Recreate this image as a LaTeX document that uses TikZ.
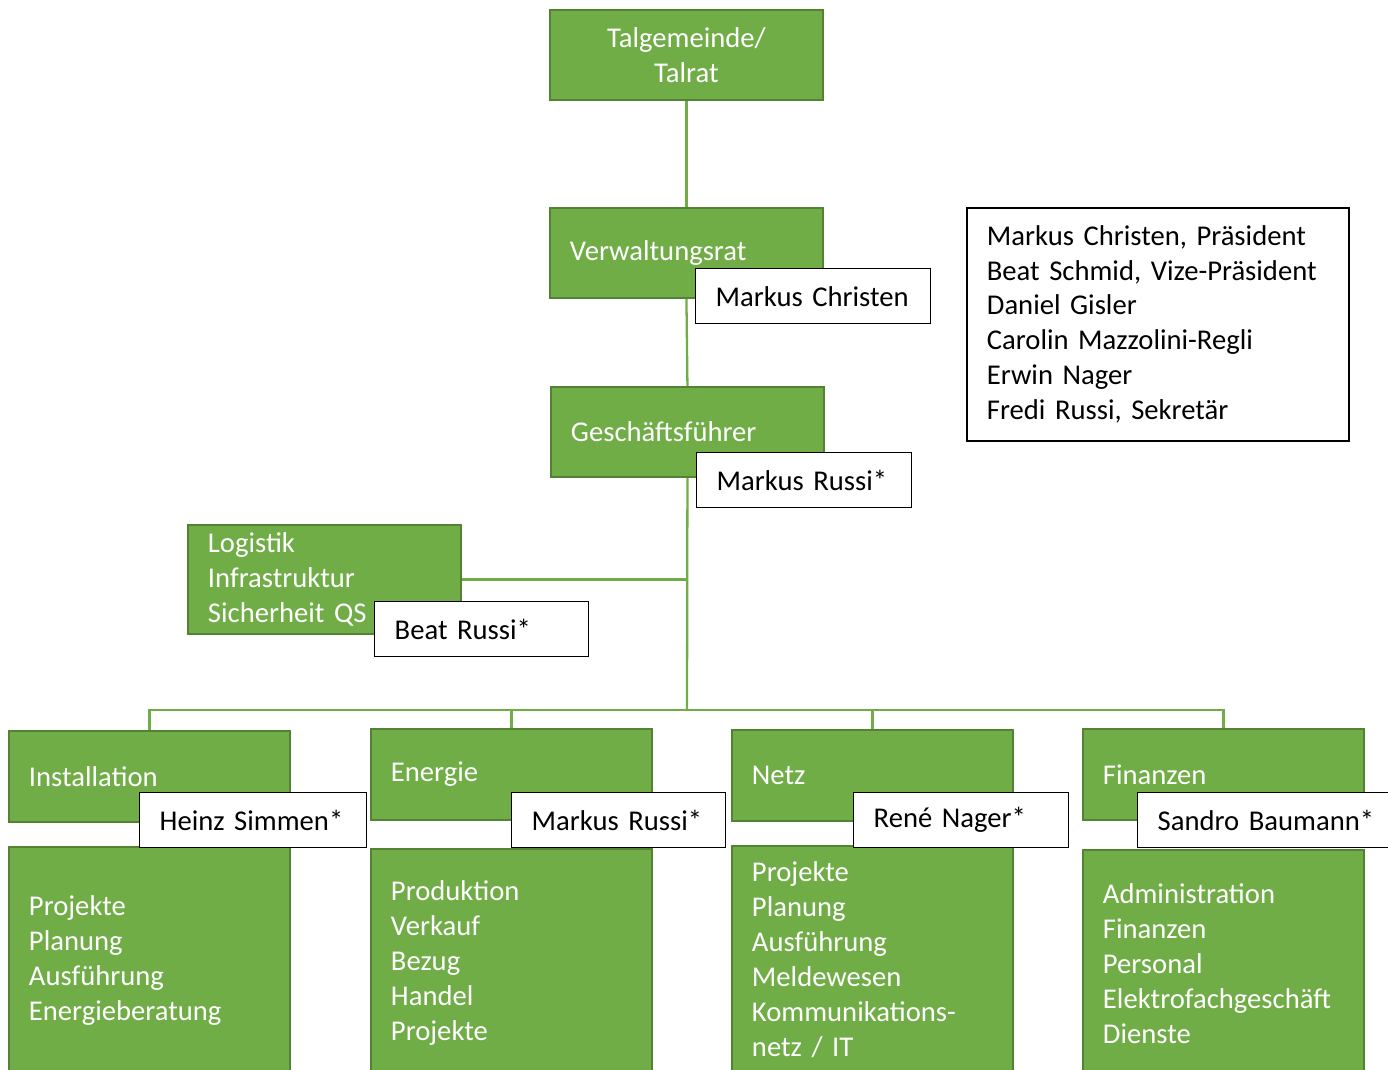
\documentclass[tikz,border=0pt]{standalone}
\usepackage{fontspec}
\setmainfont{Carlito}
\definecolor{unitgreen}{HTML}{70AD47}
\definecolor{unitedge}{HTML}{548235}
\begin{document}
\begin{tikzpicture}[x=0.02cm,y=-0.02cm]
            \tikzstyle{unit}=[draw=unitedge,fill=unitgreen,line width=1.1pt,text=white,anchor=north west,inner xsep=0.4cm,font=\fontsize{16.3}{19.9}\selectfont]
            \tikzstyle{head}=[unit,minimum width=5.62cm,minimum height=1.82cm,text width=4.82cm,align=left]
            \tikzstyle{tasks}=[unit,minimum width=5.62cm,minimum height=4.56cm,text width=4.82cm,align=left]
            \tikzstyle{person}=[draw=black,fill=white,line width=0.8pt,anchor=north west,inner xsep=0.4cm,minimum height=1.1cm,align=left,font=\fontsize{16.3}{19.9}\selectfont]
            \tikzstyle{link}=[draw=unitgreen,line width=1.3pt]
            \useasboundingbox (0,0) rectangle (1388,1069);
            \clip (0,0) rectangle (1388,1069);
            % top of the tree
            \node[unit,minimum width=5.46cm,minimum height=1.8cm,align=center] (talrat) at (549,9) {Talgemeinde/\\Talrat};
            \node[unit,minimum width=5.46cm,minimum height=1.8cm,text width=4.66cm,align=left] (vwr) at (549,207) {Verwaltungsrat};
            \node[unit,minimum width=5.46cm,minimum height=1.8cm,text width=4.66cm,align=left] (gf) at (550,386) {Geschäftsführer};
            \node[unit,minimum width=5.46cm,minimum height=2.18cm,text width=4.66cm,align=left] (logistik) at (187,524) {Logistik\\Infrastruktur\\Sicherheit QS};
            \node[draw=black,line width=1pt,anchor=north west,minimum width=7.64cm,minimum height=4.66cm,text width=6.84cm,inner xsep=0.4cm,align=left,font=\fontsize{16.3}{19.9}\selectfont] (board) at (966,207)
                {Markus Christen, Präsident\\Beat Schmid, Vize-Präsident\\Daniel Gisler\\Carolin Mazzolini-Regli\\Erwin Nager\\Fredi Russi, Sekretär};
            % departments
            \node[head] (inst) at (8,730) {Installation};
            \node[head] (ener) at (370,728) {Energie};
            \node[head] (netz) at (731,729) {Netz};
            \node[head] (fin) at (1082,728) {Finanzen};
            \node[tasks] (instsub) at (8,846) {Projekte\\Planung\\Ausführung\\Energieberatung};
            \node[tasks] (enersub) at (370,848) {Produktion\\Verkauf\\Bezug\\Handel\\Projekte};
            \node[tasks] (netzsub) at (731,845) {Projekte\\Planung\\Ausführung\\Meldewesen\\Kommunikations-\\netz / IT};
            \node[tasks] (finsub) at (1082,849) {Administration\\Finanzen\\Personal\\Elektrofachgeschäft\\Dienste};
            % connectors
            \coordinate (bus) at (687,710);
            \draw[link] (talrat.south) -- (vwr.north);
            \draw[link] (vwr.south) -- (gf.north);
            \draw[link] (gf.south) -- (bus);
            \draw[link] (logistik.east) -- (logistik.east -| bus);
            \draw[link] (inst.north) |- (bus) -| (fin.north);
            \draw[link] (ener.north) -- (ener.north |- bus);
            \draw[link] (netz.north) -- (netz.north |- bus);
            % names
            \node[person,minimum width=4.7cm,text width=3.9cm] (vwrname) at (695,268) {Markus Christen};
            \node[person,minimum width=4.3cm,text width=3.5cm] (gfname) at (696,452) {Markus Russi*};
            \node[person,minimum width=4.28cm,text width=3.48cm] (logname) at (374,601) {Beat Russi*};
            \node[person,minimum width=4.54cm,text width=3.74cm] (instname) at (139,792) {Heinz Simmen*};
            \node[person,minimum width=4.28cm,text width=3.48cm] (enername) at (511,792) {Markus Russi*};
            \node[person,minimum width=4.3cm,text width=3.5cm] (netzname) at (853,792) {René Nager*};
            \node[person,minimum width=5.6cm,text width=4.8cm] (finname) at (1137,792) {Sandro Baumann*};
        \end{tikzpicture}
\end{document}
